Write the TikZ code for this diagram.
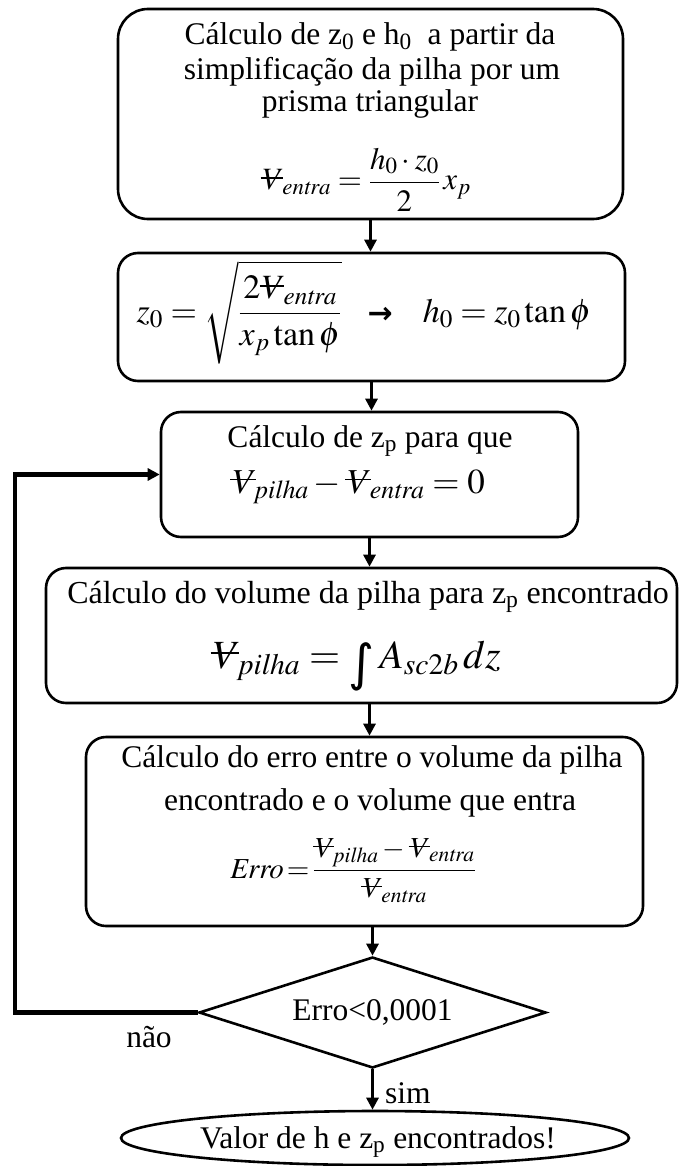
\documentclass[tikz,border=0pt]{standalone}
\usepackage{mathptmx}
\usepackage{fontspec}
\setmainfont{Liberation Serif}
\newfontfamily\dejavu{DejaVu Sans}
\usetikzlibrary{arrows.meta,shapes.geometric}
\newcommand\Vbx[2]{\setbox0=\hbox{$#1\mathit{V}$}\rlap{\hbox to \wd0{\hss\vrule height 0.62\ht0 depth -0.55\ht0 width 1.05\wd0\hss}}\copy0}
\newcommand\Vb{\mathpalette\Vbx{}}
\begin{document}
\begin{tikzpicture}[x=1pt,y=-1pt,
  every node/.style={font=\fontsize{31.5}{34}\selectfont, text=black},
  box/.style={draw, line width=2.6pt, rounded corners=20pt, inner sep=0pt},
  txt/.style={inner sep=0pt, anchor=base},
  conn/.style={line width=2.8pt, -{Triangle[width=12pt,length=12pt]}},
  loopline/.style={line width=4.5pt, -{Triangle[width=12pt,length=12pt]}}]
\useasboundingbox (0,0) rectangle (678,1166);
\fill[white] (0,0) rectangle (678,1166);

% boxes
\node[box, rounded corners=30pt, minimum width=505pt, minimum height=210pt] (b1) at (370.5,114) {};
\node[box, minimum width=507pt, minimum height=128pt] (b2) at (371.5,317) {};
\node[box, minimum width=417pt, minimum height=125pt] (b3) at (369.5,474.5) {};
\node[box, minimum width=631pt, minimum height=135pt] (b4) at (361.5,635.5) {};
\node[box, minimum width=557pt, minimum height=189pt] (b5) at (364.5,831.5) {};
\node[draw, diamond, line width=2.6pt, aspect=3.1, inner sep=0pt, minimum width=347pt, minimum height=111pt] (d) at (372.5,1012.5) {};
\node[draw, ellipse, line width=2.6pt, inner sep=0pt, minimum width=508pt, minimum height=54pt] (e) at (375,1138) {};

% box 1
\node[txt] (t1a) at (370,45) {C\'alculo de z\textsubscript{0} e h\textsubscript{0}\ \ a partir da};
\node[txt] (t1b) at (372,80) {simplifica\c{c}\~ao da pilha por um};
\node[txt] (t1c) at (370,112) {prisma triangular};
\node[txt, font=\fontsize{31}{34}\selectfont] (f1) at (366,190) {$\displaystyle \Vb_{\mathit{entra}}=\frac{h_0\cdot z_0}{2}\,x_p$};

% box 2
\node[txt, font=\fontsize{34}{38}\selectfont] (f2) at (364,322)
 {$\displaystyle z_0=\sqrt{\frac{2\Vb_{\mathit{entra}}}{x_p\tan\phi}}$\hspace{26pt}{\dejavu\bfseries\fontsize{30}{30}\selectfont\raisebox{-1pt}{→}}\hspace{30pt}$h_0=z_0\tan\phi$};

% box 3
\node[txt] (t3a) at (370,447) {C\'alculo de z\textsubscript{p} para que};
\node[txt, font=\fontsize{35}{38}\selectfont] (f3) at (358,493) {$\Vb_{\mathit{pilha}}-\Vb_{\mathit{entra}}=0$};

% box 4
\node[txt, font=\fontsize{32}{34}\selectfont] (t4a) at (368,603) {C\'alculo do volume da pilha para z\textsubscript{p} encontrado};
\node[txt, font=\fontsize{40}{44}\selectfont] (f4) at (356,668) {$\Vb_{\mathit{pilha}}=\mathop{\smash{\raisebox{-12pt}{\dejavu\fontsize{50}{50}\selectfont ∫}}}\nolimits A_{\mathit{sc}2b}\,dz$};

% box 5
\node[txt] (t5a) at (372,767) {C\'alculo do erro entre o volume da pilha};
\node[txt] (t5b) at (370,810) {encontrado e o volume que entra};
\node[txt, font=\fontsize{29}{32}\selectfont] (f5) at (353,878)
 {$\thickmuskip=2mu\mathit{Erro}={\displaystyle\frac{\Vb_{\mathit{pilha}}-\Vb_{\mathit{entra}}}{\Vb_{\mathit{entra}}}}$};

% decision, end
\node[inner sep=0pt] (dt) at (d) {Erro<0,0001};
\node[txt] (et) at (378,1148) {Valor de h e z\textsubscript{p} encontrados!};
\node[inner sep=0pt] (nao) at (149,1037) {n\~ao};
\node[inner sep=0pt, anchor=west] (sim) at (385,1093) {sim};
\coordinate (L) at (15,474.5);

% connectors
\draw[conn] (b1.south) -- (b1.south |- b2.north);
\draw[conn] (b2.south) -- (b2.south |- b3.north);
\draw[conn] (b3.south) -- (b3.south |- b4.north);
\draw[conn] (b3.south |- b4.south) -- (b3.south |- b5.north);
\draw[conn] (d.north |- b5.south) -- (d.north);
\draw[conn] (d.south) -- (d.south |- e.north);
\draw[loopline] (d.west) -- (d.west -| L) -- (L) -- (b3.west);
\end{tikzpicture}
\end{document}
